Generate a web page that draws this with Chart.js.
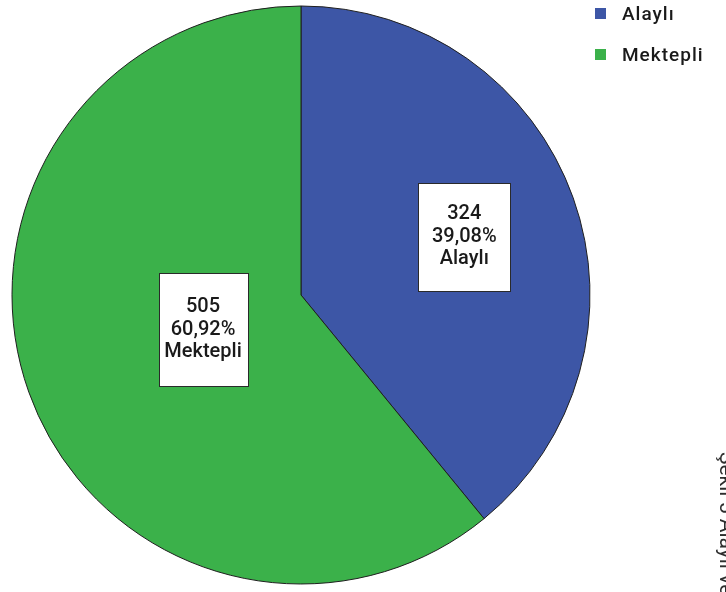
<!DOCTYPE html>
<html>
<head>
<meta charset="utf-8">
<script src="https://cdn.jsdelivr.net/npm/chart.js@4/dist/chart.umd.min.js"></script>
<style>
  html, body { margin: 0; padding: 0; background: #ffffff; }
  #wrap { width: 726px; height: 592px; position: relative; }
</style>
</head>
<body>
<div id="wrap"><canvas id="pie" width="726" height="592"></canvas></div>
<script>
// Officer origin groups and their counts
const categories = ['Alaylı', 'Mektepli'];
const counts = [324, 505];
const sliceColors = ['#3d56a6', '#3bb14a'];
const caption = 'Şekil 5 Alaylı ve Mektepli Subay Dağılımı';

const total = counts.reduce((a, b) => a + b, 0);
const percentText = v => (v / total * 100).toFixed(2).replace('.', ',') + '%';

// Boxed value labels placed inside each slice
const sliceLabels = {
  id: 'sliceLabels',
  afterDatasetsDraw(chart, args, opts) {
    const ctx = chart.ctx;
    const meta = chart.getDatasetMeta(0);
    meta.data.forEach((arc, i) => {
      const p = arc.getProps(['x', 'y', 'startAngle', 'endAngle', 'outerRadius'], true);
      const mid = (p.startAngle + p.endAngle) / 2;
      const r = p.outerRadius * opts.radial[i];
      const cx = p.x + Math.cos(mid) * r;
      const cy = p.y + Math.sin(mid) * r;
      const lines = [String(counts[i]), percentText(counts[i]), categories[i]];
      const [bw, bh] = opts.box[i];
      const bx = Math.round(cx - bw / 2) + 0.5;
      const by = Math.round(cy - bh / 2) + 0.5;
      ctx.save();
      ctx.fillStyle = '#ffffff';
      ctx.fillRect(bx, by, bw, bh);
      ctx.strokeStyle = '#2a2a2a';
      ctx.lineWidth = 1;
      ctx.strokeRect(bx, by, bw, bh);
      ctx.fillStyle = '#1a1a1a';
      ctx.font = '500 20px Roboto, "DejaVu Sans", sans-serif';
      ctx.textAlign = 'center';
      ctx.textBaseline = 'middle';
      const lh = 22.5;
      lines.forEach((t, k) => {
        ctx.fillText(t, cx, cy + (k - 1) * lh);
      });
      ctx.restore();
    });
  }
};

// Legend in the upper right corner and the vertical caption on the right edge
const sideText = {
  id: 'sideText',
  afterDraw(chart) {
    const ctx = chart.ctx;
    ctx.save();
    ctx.font = '500 19px Roboto, "DejaVu Sans", sans-serif';
    ctx.textBaseline = 'middle';
    ctx.textAlign = 'left';
    if ('letterSpacing' in ctx) ctx.letterSpacing = '1px';
    categories.forEach((c, i) => {
      const y = 14 + i * 41;
      ctx.fillStyle = sliceColors[i];
      ctx.fillRect(595, y - 6, 11, 11);
      ctx.fillStyle = '#1a1a1a';
      ctx.fillText(c, 622, y + 1);
    });
    if ('letterSpacing' in ctx) ctx.letterSpacing = '0px';
    ctx.translate(720, 452);
    ctx.rotate(Math.PI / 2);
    ctx.font = '21px Roboto, "DejaVu Sans", sans-serif';
    ctx.fillStyle = '#2e2e2e';
    ctx.textBaseline = 'alphabetic';
    ctx.fillText(caption, 0, 0);
    ctx.restore();
  }
};

new Chart(document.getElementById('pie'), {
  type: 'pie',
  data: {
    labels: categories,
    datasets: [{
      data: counts,
      backgroundColor: sliceColors,
      borderColor: '#1f1f1f',
      borderWidth: 1
    }]
  },
  options: {
    responsive: false,
    animation: false,
    events: [],
    radius: 289,
    layout: { padding: { left: 0, top: 0, right: 124, bottom: 2 } },
    plugins: {
      legend: { display: false },
      tooltip: { enabled: false },
      sliceLabels: { radial: [0.6, 0.36], box: [[92, 108], [89, 113]] }
    }
  },
  plugins: [sliceLabels, sideText]
});
</script>
</body>
</html>
